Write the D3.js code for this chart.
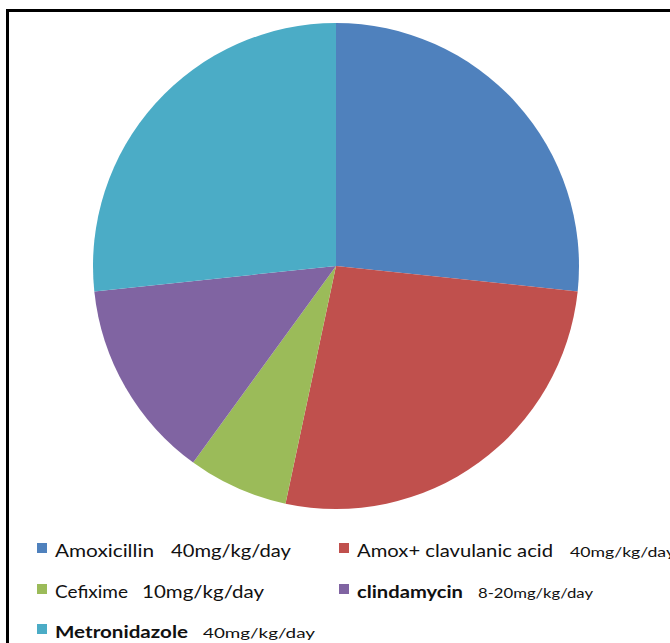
<!DOCTYPE html>
<html>
<head>
<meta charset="utf-8">
<script src="https://cdn.jsdelivr.net/npm/d3@7"></script>
<style>
  html, body { margin: 0; padding: 0; background: #fff; }
  svg { display: block; }
</style>
</head>
<body>
<svg id="chart" width="670" height="643"></svg>
<script>
// Antibiotics and their share of prescriptions
const drugs = ["Amoxicillin", "Amox+ clavulanic acid", "Cefixime", "clindamycin", "Metronidazole"];
const doses = ["40mg/kg/day", "40mg/kg/day", "10mg/kg/day", "8-20mg/kg/day", "40mg/kg/day"];
const counts = [4, 4, 1, 2, 4];
const colors = ["#4F81BD", "#C0504D", "#9BBB59", "#8064A2", "#4BACC6"];

const svg = d3.select("#chart");

// Frame around the chart area
svg.append("rect")
  .attr("x", 7.5).attr("y", 10.5)
  .attr("width", 700).attr("height", 700)
  .attr("fill", "none").attr("stroke", "#000").attr("stroke-width", 3);

const cx = 336, cy = 266, r = 243;

const pie = d3.pie().value(d => d).sort(null);
const arc = d3.arc().innerRadius(0).outerRadius(r);

svg.append("g")
  .attr("transform", `translate(${cx},${cy})`)
  .selectAll("path")
  .data(pie(counts))
  .join("path")
  .attr("d", arc)
  .attr("fill", (d, i) => colors[i]);

// Legend: two columns, three rows
const legendPos = [
  { x: 37, y: 557, nameW: 99, doseX: 171, doseW: 120, nameSize: 17, doseSize: 17 },
  { x: 339, y: 557, nameW: 196, doseX: 570, doseW: 105, nameSize: 17, doseSize: 13.5 },
  { x: 37, y: 598, nameW: 73, doseX: 142, doseW: 122, nameSize: 17, doseSize: 17 },
  { x: 339, y: 598, nameW: 106, doseX: 478, doseW: 115, nameSize: 17, doseSize: 13.5 },
  { x: 37, y: 638, nameW: 133, doseX: 203, doseW: 112, nameSize: 17, doseSize: 14 }
];
const bold = [false, false, false, true, true];

const legend = svg.append("g").attr("font-family", "Lato, 'Open Sans', sans-serif").attr("fill", "#111");

drugs.forEach((name, i) => {
  const p = legendPos[i];
  legend.append("rect")
    .attr("x", p.x).attr("y", p.y - 14)
    .attr("width", 10).attr("height", 10)
    .attr("fill", colors[i]);
  legend.append("text")
    .attr("x", p.x + 18).attr("y", p.y)
    .attr("font-size", p.nameSize)
    .attr("font-weight", bold[i] ? 700 : 400)
    .attr("textLength", p.nameW).attr("lengthAdjust", "spacingAndGlyphs")
    .text(name);
  legend.append("text")
    .attr("x", p.doseX).attr("y", p.y)
    .attr("font-size", p.doseSize)
    .attr("textLength", p.doseW).attr("lengthAdjust", "spacingAndGlyphs")
    .text(doses[i]);
});
</script>
</body>
</html>
